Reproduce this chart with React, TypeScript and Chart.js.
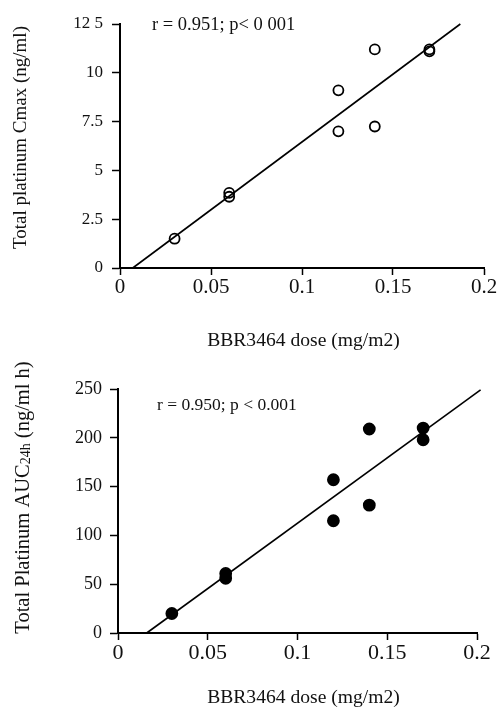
import React, { useEffect, useRef } from "react";
import { Chart, registerables } from "chart.js";

Chart.register(...registerables);

const FONT = '"Liberation Serif", "Times New Roman", "DejaVu Serif", serif';

// ---- data ----
const doses = [0.03, 0.06, 0.06, 0.12, 0.12, 0.14, 0.14, 0.17, 0.17];
const cmaxValues = [1.5, 3.85, 3.65, 9.1, 7.0, 11.2, 7.25, 11.1, 11.2];
const aucValues = [20, 61, 56, 157, 115, 209, 131, 210, 198];

const cmaxFitX = [0.007, 0.187];
const cmaxFitY = [0, 12.5];
const aucFitX = [0.016, 0.202];
const aucFitY = [0, 249];

const xTickLabels = ["0", "0.05", "0.1", "0.15", "0.2"];
const cmaxTickLabels = ["0", "2.5", "5", "7.5", "10", "12 5"];
const aucTickLabels = ["0", "50", "100", "150", "200", "250"];

const xTitle = "BBR3464 dose (mg/m2)";
const cmaxTitle = [{ text: "Total platinum Cmax (ng/ml)", size: 19 }];
const aucTitle = [
  { text: "Total Platinum AUC", size: 20.5 },
  { text: "24h", size: 14, dy: 1 },
  { text: " (ng/ml h)", size: 20.5 },
];
const cmaxNote = "r = 0.951; p< 0 001";
const aucNote = "r = 0.950; p < 0.001";

type Part = { text: string; size: number; dy?: number };

function makeTextPlugin(cfg: any) {
  return {
    id: "customText",
    afterDraw(chart: any) {
      const ctx = chart.ctx as CanvasRenderingContext2D;
      const a = chart.chartArea;
      ctx.save();
      ctx.fillStyle = "#111";
      ctx.textBaseline = "alphabetic";
      // y title (rotated)
      ctx.save();
      ctx.translate(cfg.yTitleX, cfg.yTitleY);
      ctx.rotate(-Math.PI / 2);
      let total = 0;
      (cfg.yTitle as Part[]).forEach((p) => {
        ctx.font = `${p.size}px ${FONT}`;
        total += ctx.measureText(p.text).width;
      });
      let x = -total / 2;
      ctx.textAlign = "left";
      (cfg.yTitle as Part[]).forEach((p) => {
        ctx.font = `${p.size}px ${FONT}`;
        ctx.fillText(p.text, x, p.dy || 0);
        x += ctx.measureText(p.text).width;
      });
      ctx.restore();
      // x title
      ctx.font = `${cfg.xTitleSize}px ${FONT}`;
      ctx.textAlign = "center";
      ctx.fillText(cfg.xTitle, cfg.xTitleX, cfg.xTitleY);
      // annotation
      ctx.font = `${cfg.noteSize}px ${FONT}`;
      ctx.textAlign = "left";
      ctx.fillText(cfg.note, a.left + cfg.noteDx, a.top + cfg.noteDy);
      ctx.restore();
    },
  };
}

function buildConfig(p: any) {
  const points = doses.map((d, i) => ({ x: d, y: p.values[i] }));
  const fit = p.fitX.map((d: number, i: number) => ({ x: d, y: p.fitY[i] }));
  return {
    type: "scatter",
    data: {
      datasets: [
        {
          data: fit,
          showLine: true,
          pointRadius: 0,
          borderColor: "#000",
          borderWidth: 1.6,
          fill: false,
          clip: false,
        },
        {
          data: points,
          showLine: false,
          pointRadius: p.radius,
          pointHoverRadius: p.radius,
          pointBorderWidth: 1.8,
          pointBorderColor: "#000",
          pointBackgroundColor: p.filled ? "#000" : "rgba(0,0,0,0)",
          clip: false,
        },
      ],
    },
    options: {
      animation: false,
      responsive: false,
      devicePixelRatio: 1,
      events: [],
      layout: { padding: p.padding },
      plugins: { legend: { display: false }, tooltip: { enabled: false } },
      scales: {
        x: {
          type: "linear",
          min: 0,
          max: 0.2,
          ticks: {
            stepSize: 0.05,
            autoSkip: false,
            maxRotation: 0,
            padding: 0,
            color: "#111",
            font: { family: FONT, size: p.xTickSize },
            callback: (_v: any, i: number) => xTickLabels[i] ?? "",
          },
          grid: {
            drawOnChartArea: false,
            drawTicks: true,
            tickLength: 7,
            tickWidth: 1.5,
            tickColor: "#000",
          },
          border: { display: true, color: "#000", width: 2 },
          afterFit: (s: any) => {
            s.height = p.xHeight;
            s.paddingLeft = 0;
            s.paddingRight = 0;
          },
        },
        y: {
          type: "linear",
          min: 0,
          max: p.yMax,
          ticks: {
            stepSize: p.yStep,
            autoSkip: false,
            padding: p.yTickPad,
            color: "#111",
            font: { family: FONT, size: p.yTickSize },
            callback: (_v: any, i: number) => p.yLabels[i] ?? "",
          },
          grid: {
            drawOnChartArea: false,
            drawTicks: true,
            tickLength: 8,
            tickWidth: 1.5,
            tickColor: "#000",
          },
          border: { display: true, color: "#000", width: 2 },
          afterFit: (s: any) => {
            s.width = p.yWidth;
            s.paddingTop = 0;
            s.paddingBottom = 0;
          },
        },
      },
    },
    plugins: [makeTextPlugin(p.text)],
  } as any;
}

const topConfig = () =>
  buildConfig({
    values: cmaxValues,
    fitX: cmaxFitX,
    fitY: cmaxFitY,
    radius: 5,
    filled: false,
    padding: { left: 0, top: 24, right: 13, bottom: 0 },
    xHeight: 88,
    yWidth: 120,
    yMax: 12.5,
    yStep: 2.5,
    yLabels: cmaxTickLabels,
    yTickSize: 17,
    yTickPad: 9,
    xTickSize: 21,
    text: {
      yTitle: cmaxTitle,
      yTitleX: 26,
      yTitleY: 137.5,
      xTitle,
      xTitleSize: 19.6,
      xTitleX: 303.5,
      xTitleY: 346,
      note: cmaxNote,
      noteSize: 18.5,
      noteDx: 32,
      noteDy: 6,
    },
  });

const bottomConfig = () =>
  buildConfig({
    values: aucValues,
    fitX: aucFitX,
    fitY: aucFitY,
    radius: 5.5,
    filled: true,
    padding: { left: 0, top: 33, right: 20, bottom: 0 },
    xHeight: 79,
    yWidth: 118,
    yMax: 250,
    yStep: 50,
    yLabels: aucTickLabels,
    yTickSize: 18,
    yTickPad: 8,
    xTickSize: 22,
    text: {
      yTitle: aucTitle,
      yTitleX: 28.5,
      yTitleY: 141.5,
      xTitle,
      xTitleSize: 19.6,
      xTitleX: 303.5,
      xTitleY: 347,
      note: aucNote,
      noteSize: 17.5,
      noteDx: 39,
      noteDy: 21,
    },
  });

function ChartCanvas({ makeConfig, top }: { makeConfig: () => any; top: number }) {
  const ref = useRef<HTMLCanvasElement | null>(null);
  useEffect(() => {
    if (!ref.current) return;
    const chart = new Chart(ref.current, makeConfig());
    return () => chart.destroy();
  }, [makeConfig]);
  return (
    <canvas
      ref={ref}
      width={497}
      height={356}
      style={{ position: "absolute", left: 0, top, display: "block" }}
    />
  );
}

export default function App() {
  return (
    <div
      style={{
        position: "absolute",
        left: 0,
        top: 0,
        width: 497,
        height: 712,
        background: "#fff",
      }}
    >
      <ChartCanvas makeConfig={topConfig} top={0} />
      <ChartCanvas makeConfig={bottomConfig} top={356} />
    </div>
  );
}
